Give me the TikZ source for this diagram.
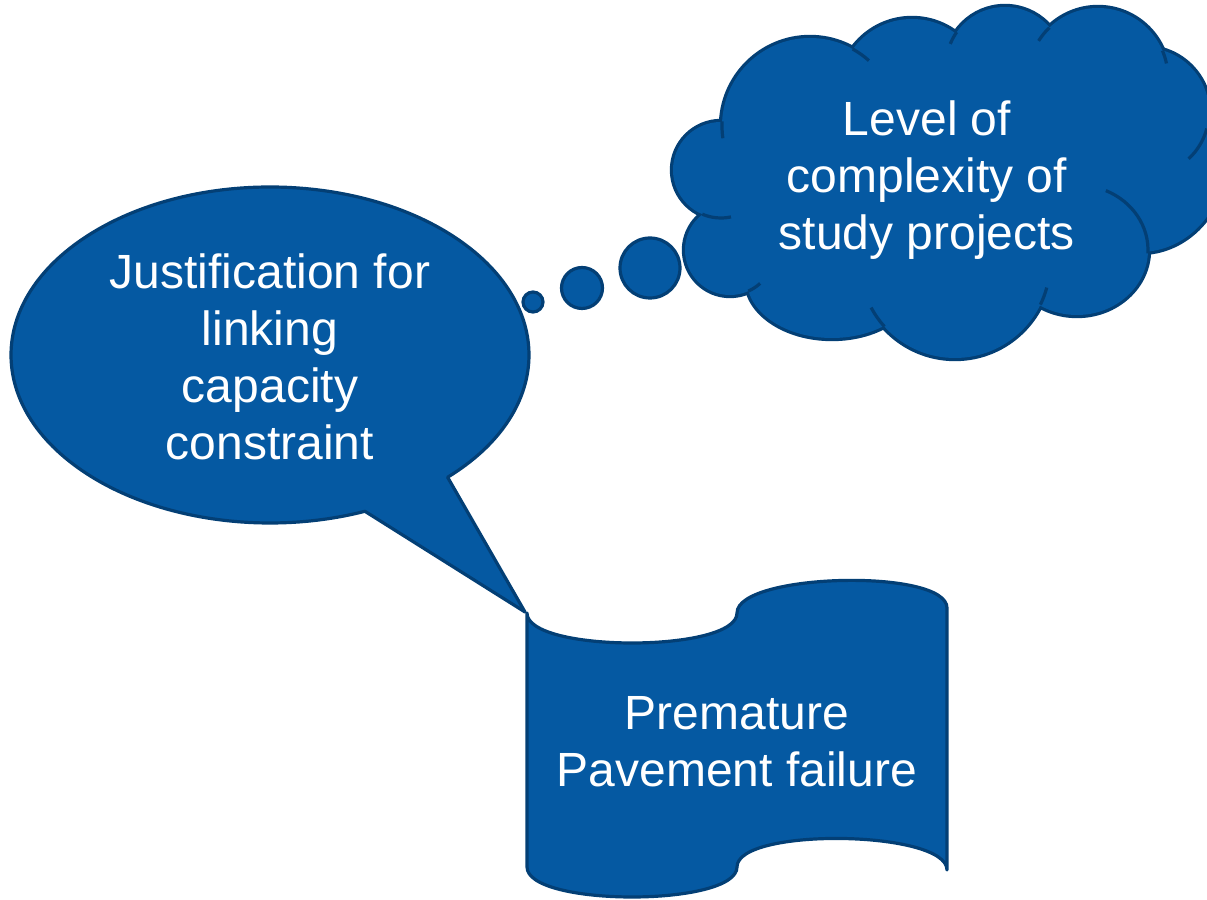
\documentclass[tikz,border=0pt]{standalone}
\usepackage{fontspec}
\setmainfont{Liberation Sans}
\usetikzlibrary{calc}
\definecolor{blf}{RGB}{5,89,162}
\definecolor{bld}{RGB}{3,63,117}
\tikzset{
    blob/.style={fill=blf,draw=bld,line width=1.6pt,line join=round},
    puff/.style={fill=blf,draw=bld,line width=3.2pt},
    crease/.style={draw=bld,line width=1.6pt},
    dot/.style={blob,circle,inner sep=0pt},
    words/.style={text=white,align=center,font=\fontsize{24}{28.5}\selectfont}
}
\newcommand\cloudlobes{721/730/48/48, 810/774/88/88, 912/808/73/73, 1005/834/59/59,
    1098/822/70/70, 1145/788/64/64, 1140/740/85/92, 1077/650/71/65,
    955/637/95/95, 832/620/85/58, 730/650/45/45}

\begin{document}
\begin{tikzpicture}[x=0.5pt,y=0.5pt]
    \clip (0,0) rectangle (1207,900);
    \coordinate (corner) at (527,287);
    \draw[blob] (corner)
        .. controls (527,247) and (737,247) .. (737,287)
        .. controls (737,327) and (947,332) .. (947,292)
        -- (947,30)
        .. controls (947,70) and (737,73) .. (737,33)
        .. controls (737,-7) and (527,-7) .. (527,33)
        -- cycle;
    \node[words] (failure) at (737,158) {Premature\\Pavement failure};
    \coordinate (jc) at (270,545);
    \coordinate (tip) at (525,288);
    \draw[blob] (tip) -- ($(jc)+(-46.7:259 and 168)$)
        arc[start angle=-46.7, end angle=291.5, x radius=259, y radius=168]
        -- cycle;
    \node[words] (justify) at (270,543) {Justification for\\linking\\capacity\\constraint};
    \node[dot,minimum size=10pt] (dot1) at (533,598) {};
    \node[dot,minimum size=20.5pt] (dot2) at (582,612) {};
    \node[dot,minimum size=30pt] (dot3) at (650,632) {};
    \foreach \cx/\cy/\rx/\ry in \cloudlobes {
        \draw[puff] (\cx,\cy) ellipse[x radius=\rx, y radius=\ry];
    }
    \fill[blf] (721,730) -- (810,774) -- (912,808) -- (1005,834) -- (1098,822)
        -- (1145,788) -- (1140,740) -- (1077,650) -- (955,637) -- (832,620)
        -- (730,650) -- cycle;
    \foreach \cx/\cy/\rx/\ry in \cloudlobes {
        \fill[blf] (\cx,\cy) ellipse[x radius=\rx, y radius=\ry];
    }
    \foreach \cx/\cy/\r/\a/\b in {810/774/88/177/188, 810/774/88/61/48,
        1005/834/59/145/158, 1098/822/70/134/148, 1098/822/70/23/12,
        1145/788/64/-47/-15, 955/637/95/222/208, 955/637/95/-26/-15,
        730/650/45/-66/-48, 721/730/48/247/282} {
        \draw[crease] (\cx,\cy) ++(\a:\r) arc[start angle=\a, end angle=\b, radius=\r];
    }
    \draw[crease] (1077,650) ++(66:71 and 65)
        arc[start angle=66, end angle=-3, x radius=71, y radius=65];
    \node[words] (level) at (927,720) {Level of\\complexity of\\study projects};
\end{tikzpicture}
\end{document}
